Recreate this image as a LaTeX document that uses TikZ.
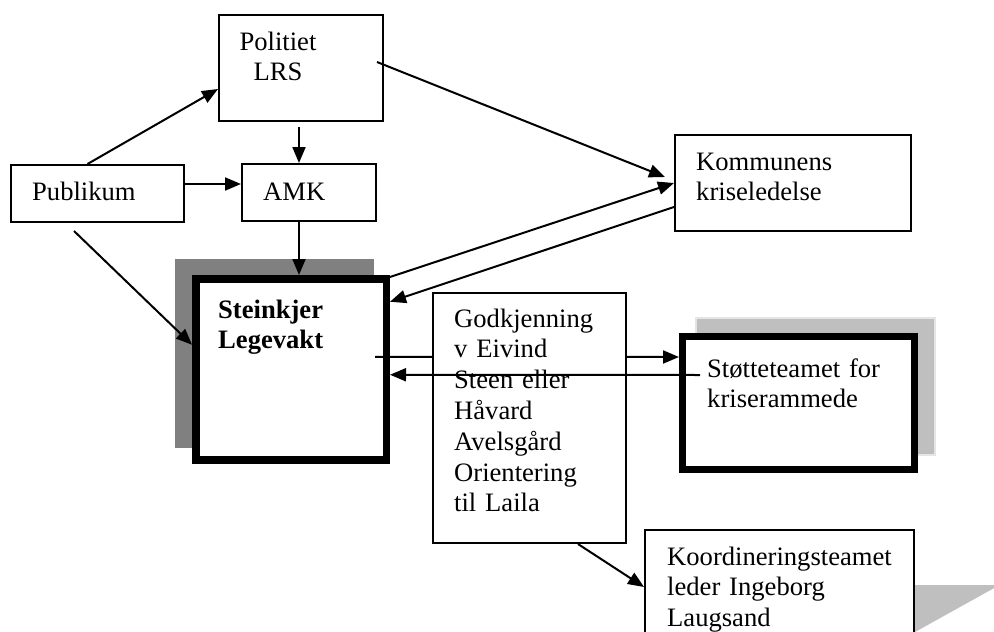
\documentclass[tikz,border=0pt]{standalone}
\usepackage{fontspec}
\setmainfont{Liberation Serif}
\usetikzlibrary{arrows.meta}

\begin{document}
\begin{tikzpicture}[x=1pt,y=-1pt,
  box/.style={draw, fill=white, line width=2pt, inner sep=0pt},
  thickbox/.style={draw, fill=white, line width=#1, inner sep=0pt},
  txt/.style={inner sep=0pt, anchor=base west, align=left, text width=250pt,
    font=\fontsize{26.6}{30.8}\selectfont},
  arr/.style={line width=2pt, -{Triangle[length=16pt,width=13pt]}}]
  \fill[white] (0,0) rectangle (994,632);
  \useasboundingbox (0,0) rectangle (994,632);
  \clip (0,0) rectangle (994,632);

  % shadows
  \fill[black!50] (175,259) rectangle (374,448);
  \filldraw[fill=black!25, draw=black!10, line width=1.5pt] (696,318) rectangle (935,455);
  \fill[black!25] (905,585) -- (996,585) -- (996,587) -- (915,632) -- (905,632) -- cycle;

  % the boxes
  \node[box, minimum width=164pt, minimum height=106pt] (politi) at (301,68) {};
  \node[box, minimum width=173pt, minimum height=57pt] (publikum) at (97.5,193.5) {};
  \node[box, minimum width=134pt, minimum height=57pt] (amk) at (309,192.5) {};
  \node[box, minimum width=236pt, minimum height=96pt] (kommune) at (793,183) {};
  \node[thickbox=7.5pt, minimum width=190.5pt, minimum height=181pt] (legevakt) at (291,369.25) {};
  \node[thickbox=7pt, minimum width=232pt, minimum height=133pt] (stotte) at (798.5,403) {};
  \node[box, minimum width=269pt, minimum height=120pt] (koord) at (779.5,590) {};

  % goes behind the approval box
  \draw[arr] ([shift={(-15,-12.5)}]legevakt.east) -- ([shift={(0,-46)}]stotte.west);
  \node[box, minimum width=193pt, minimum height=250pt] (godkjenn) at (529.5,418) {};

  % the texts
  \node[txt, anchor=base, align=center, text width=110pt] (politi-t) at (278,50) {Politiet\\LRS};
  \node[txt] (publikum-t) at (32,200) {Publikum};
  \node[txt] (amk-t) at (263,200) {AMK};
  \node[txt] (kommune-t) at (696,170) {Kommunens\\kriseledelse};
  \node[txt, font=\fontsize{26.6}{30.8}\selectfont\bfseries] (legevakt-t) at (218,318) {Steinkjer\\Legevakt};
  \node[txt] (godkjenn-t) at (454,327) {Godkjenning\\v Eivind\\Steen eller\\Håvard\\Avelsgård\\Orientering\\til Laila};
  \node[txt] (stotte-t) at (707,377) {Støtteteamet for\\kriserammede};
  \node[txt] (koord-t) at (667,565) {Koordineringsteamet\\leder Ingeborg\\Laugsand};

  % the arrows
  \draw[arr] ([shift={(-10,0)}]publikum.north) -- ([shift={(0,21)}]politi.west);
  \draw[arr] ([shift={(-2,5)}]politi.south) -- ([shift={(-10,0)}]amk.north);
  \draw[arr] ([shift={(0,-9.5)}]publikum.east) -- ([shift={(0,-8.5)}]amk.west);
  \draw[arr] ([shift={(-7,-6)}]politi.east) -- ([shift={(-9,-6)}]kommune.west);
  \draw[arr] ([shift={(-10,0)}]amk.south) -- ([shift={(8,0)}]legevakt.north);
  \draw[arr] ([shift={(-23.5,8)}]publikum.south) -- ([shift={(0,-24.5)}]legevakt.west);
  \draw[arr] ([shift={(0,2)}]legevakt.north east) -- (kommune.west);
  \draw[arr] ([shift={(0,24)}]kommune.west) -- ([shift={(0,-67.5)}]legevakt.east);
  \draw[arr] ([shift={(21,-28)}]stotte.west) -- ([shift={(0,5.5)}]legevakt.east);
  \draw[arr] ([shift={(48.5,0)}]godkjenn.south) -- ([shift={(0,58)}]koord.north west);
\end{tikzpicture}
\end{document}
